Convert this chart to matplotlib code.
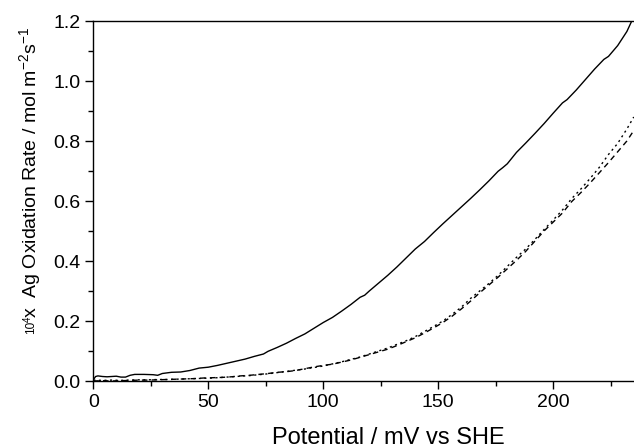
import matplotlib
matplotlib.use("Agg")
import matplotlib.pyplot as plt
from matplotlib.ticker import MultipleLocator

plt.rcParams['font.family'] = ['Liberation Sans', 'DejaVu Sans']
plt.rcParams['mathtext.default'] = 'regular'
plt.rcParams['axes.unicode_minus'] = False

# Solid curve
x_solid = [0, 1, 2, 4, 6, 8, 10, 12, 14, 16, 18, 22, 26, 28, 30, 34, 38, 42, 46, 50,
           54, 58, 62, 66, 70, 74, 76, 80, 84, 88, 92, 96, 100, 104, 108, 112, 116, 118,
           120, 124, 128, 132, 136, 140, 144, 148, 152, 156, 160, 164, 168, 172, 176, 178,
           180, 184, 188, 192, 196, 200, 204, 206, 210, 214, 218, 222, 224, 228, 232, 234]
y_solid = [0.004, 0.015, 0.017, 0.015, 0.014, 0.015, 0.016, 0.013, 0.013, 0.019, 0.022,
           0.022, 0.021, 0.019, 0.025, 0.029, 0.030, 0.035, 0.043, 0.046, 0.052, 0.059,
           0.066, 0.073, 0.082, 0.090, 0.099, 0.112, 0.126, 0.142, 0.157, 0.176, 0.195,
           0.212, 0.233, 0.255, 0.279, 0.286, 0.300, 0.326, 0.352, 0.380, 0.410, 0.440,
           0.465, 0.495, 0.524, 0.552, 0.580, 0.608, 0.637, 0.667, 0.699, 0.711, 0.724,
           0.762, 0.793, 0.825, 0.858, 0.893, 0.927, 0.938, 0.970, 1.005, 1.040, 1.072,
           1.082, 1.118, 1.165, 1.198]

# Two lower curves
x_low = [0, 4, 8, 12, 16, 20, 24, 28, 32, 36, 40, 44, 48, 52, 56, 60, 64, 68, 72, 76,
         80, 84, 88, 92, 96, 100, 104, 108, 112, 116, 120, 124, 128, 132, 136, 140, 144,
         148, 152, 156, 160, 164, 168, 172, 176, 180, 184, 188, 192, 196, 200, 204, 208,
         212, 216, 220, 224, 228, 232, 235]
y_dotted = [0.003, 0.002, 0.003, 0.002, 0.003, 0.004, 0.004, 0.005, 0.005, 0.006, 0.007,
            0.008, 0.009, 0.010, 0.012, 0.014, 0.016, 0.018, 0.021, 0.024, 0.028, 0.032,
            0.036, 0.040, 0.045, 0.050, 0.057, 0.064, 0.072, 0.080, 0.090, 0.100, 0.110,
            0.122, 0.134, 0.148, 0.165, 0.182, 0.200, 0.222, 0.246, 0.275, 0.300, 0.325,
            0.352, 0.382, 0.412, 0.440, 0.472, 0.505, 0.537, 0.570, 0.608, 0.640, 0.675,
            0.712, 0.755, 0.792, 0.840, 0.880]
y_dashed = [0.000, 0.001, 0.000, 0.001, 0.002, 0.003, 0.003, 0.004, 0.005, 0.006, 0.007,
            0.008, 0.010, 0.011, 0.012, 0.014, 0.017, 0.019, 0.022, 0.025, 0.029, 0.031,
            0.035, 0.041, 0.047, 0.052, 0.056, 0.063, 0.070, 0.079, 0.088, 0.097, 0.106,
            0.118, 0.131, 0.144, 0.160, 0.177, 0.195, 0.216, 0.240, 0.266, 0.294, 0.320,
            0.346, 0.374, 0.402, 0.432, 0.466, 0.500, 0.530, 0.560, 0.598, 0.628, 0.660,
            0.694, 0.728, 0.764, 0.800, 0.835]

x_ticks = [0, 50, 100, 150, 200]
y_ticks = [0.0, 0.2, 0.4, 0.6, 0.8, 1.0, 1.2]

W, H = 634, 448
fig = plt.figure(figsize=(W / 100, H / 100), dpi=100)
ax = fig.add_axes([93.3 / W, (H - 381) / H, (W - 93.3) / W, 360 / H])

ax.plot(x_solid, y_solid, color='black', lw=1.0, solid_joinstyle='round')
ax.plot(x_low, y_dotted, color='black', lw=1.0, dashes=(1.5, 2.5))
ax.plot(x_low, y_dashed, color='black', lw=1.0, dashes=(4, 3))

ax.set_xlim(0, 235.1)
ax.set_ylim(0, 1.2)
ax.set_xticks(x_ticks)
ax.set_yticks(y_ticks)
ax.set_yticklabels([f"{v:.1f}" for v in y_ticks])
ax.xaxis.set_minor_locator(MultipleLocator(25))
ax.yaxis.set_minor_locator(MultipleLocator(0.1))

ax.spines['right'].set_visible(False)
for s in ['left', 'bottom', 'top']:
    ax.spines[s].set_linewidth(1.0)
ax.tick_params(which='major', direction='out', length=6, width=1.0, labelsize=14, pad=3,
               top=False, right=False)
ax.tick_params(which='minor', direction='out', length=3.5, width=1.0, top=False, right=False)

# x label
fig.text(388 / W, 4 / H, "Potential / mV vs SHE", fontsize=17, ha='center', va='baseline')

# y label pieces
fig.text(30 / W, (H - 318) / H, "x  Ag Oxidation Rate / mol m$^{-2}$s$^{-1}$",
         fontsize=14, rotation=90, ha='center', va='bottom')
fig.text(31 / W, (H - 334) / H, "10", fontsize=8.5, rotation=90, ha='center', va='bottom')
fig.text(27.5 / W, (H - 322) / H, "4", fontsize=7, rotation=90, ha='center', va='bottom')

fig.savefig("out.png", dpi=100)
